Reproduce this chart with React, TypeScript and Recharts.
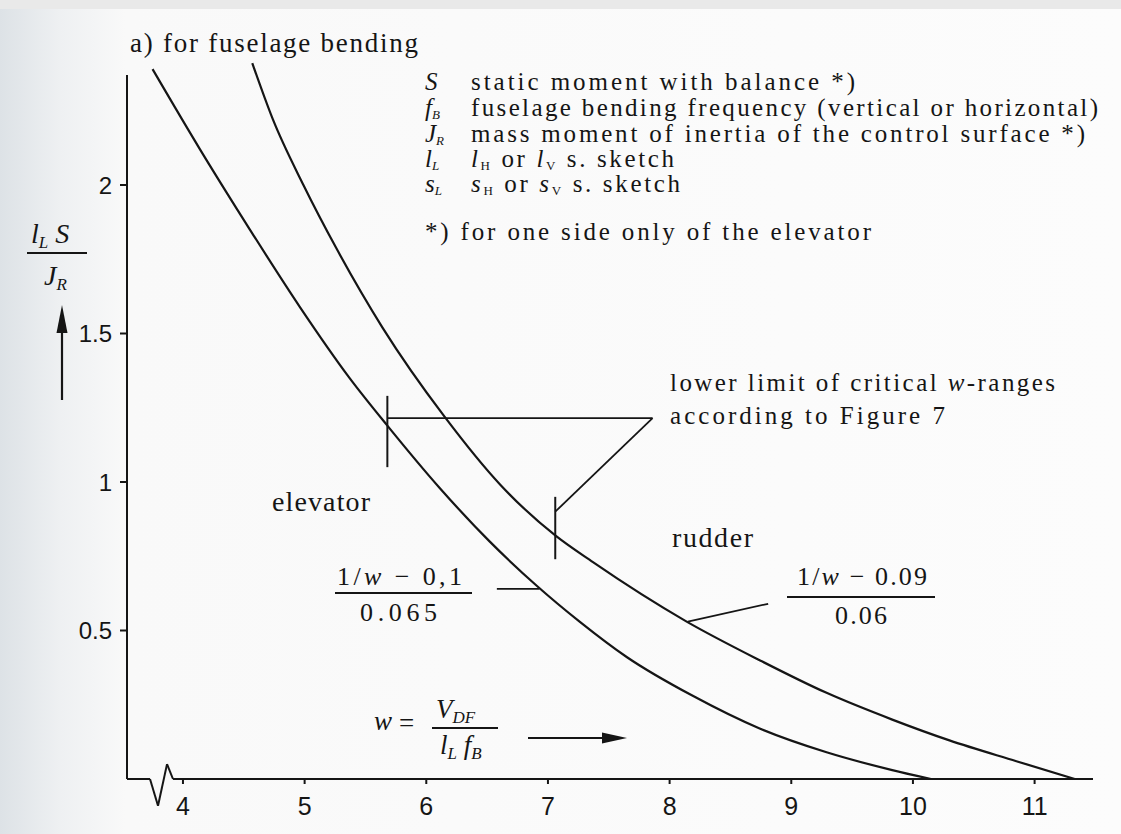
import React from 'react';
import { ComposedChart, Line, XAxis, YAxis, ReferenceLine } from 'recharts';

// Speed parameter w on the horizontal axis
const W_TICKS = [4, 5, 6, 7, 8, 9, 10, 11];
// Ratio l_L·S / J_R on the vertical axis
const Y_TICKS = [0.5, 1, 1.5, 2];

// Elevator curve  (1/w − 0,1) / 0.065
const elevatorW = [3.75, 4.14, 4.55, 4.96, 5.37, 5.68, 6.11, 6.52, 6.91, 7.26, 7.65, 8.19, 8.74, 9.29, 9.83, 10.15];
const elevatorV = [2.39, 2.12, 1.85, 1.59, 1.35, 1.19, 0.98, 0.8, 0.65, 0.53, 0.41, 0.28, 0.17, 0.09, 0.03, 0];

// Rudder curve  (1/w − 0.09) / 0.06
const rudderW = [4.57, 4.74, 4.99, 5.27, 5.64, 6.15, 6.61, 7.06, 7.37, 8.14, 8.74, 9.29, 9.83, 10.3, 10.85, 11.33];
const rudderV = [2.41, 2.22, 2.0, 1.78, 1.52, 1.22, 0.99, 0.82, 0.73, 0.53, 0.4, 0.29, 0.2, 0.13, 0.06, 0];

// Lower limits of the critical w-ranges (Figure 7)
const elevatorLimitW = 5.68;
const rudderLimitW = 7.06;

const elevatorData = elevatorW.map((w, i) => ({ w, v: elevatorV[i] }));
const rudderData = rudderW.map((w, i) => ({ w, v: rudderV[i] }));

const W_MIN = 3.54;
const W_MAX = 11.48;
const V_MAX = 2.45;
const V_AXIS_TOP = 2.37;

const INK = '#151515';
const SERIF = "'Liberation Serif', 'Times New Roman', serif";
const SANS = "'Liberation Sans Narrow', 'Liberation Sans', Arial, sans-serif";

const seg = (x1: number, y1: number, x2: number, y2: number, key: string, w = 2) => (
  <ReferenceLine
    key={key}
    segment={[{ x: x1, y: y1 }, { x: x2, y: y2 }]}
    stroke={INK}
    strokeWidth={w}
    ifOverflow="visible"
  />
);

const Sub = ({ children, size = 15, dy = 4 }: { children: React.ReactNode; size?: number; dy?: number }) => (
  <tspan fontSize={size} dy={dy}>{children}</tspan>
);

export default function App() {
  const width = 1121;
  const height = 834;
  const yAxisWidth = 60;
  const xAxisHeight = 40;
  const plotBottom = 779;
  const plotTop = plotBottom - V_MAX * 297;
  const margin = { top: plotTop, right: 28, bottom: height - plotBottom - xAxisHeight, left: 127 - yAxisWidth };

  return (
    <div
      style={{
        position: 'relative',
        width,
        height,
        overflow: 'hidden',
        background: 'linear-gradient(to right, #dde2e6 0px, #eef0f2 60px, #f9f9f9 125px, #fcfcfc 100%)',
      }}
    >
      <style>{'body{margin:0}'}</style>
      <div style={{ position: 'absolute', left: 0, top: 0, width, height: 9, background: '#e9e9e9' }} />
      <div style={{ position: 'absolute', left: 0, top: 0 }}>
        <ComposedChart width={width} height={height} margin={margin}>
          <XAxis
            type="number"
            dataKey="w"
            domain={[W_MIN, W_MAX]}
            allowDataOverflow
            ticks={W_TICKS}
            axisLine={false}
            tickLine={{ stroke: INK, strokeWidth: 2 }}
            tickSize={5}
            tickMargin={13}
            height={xAxisHeight}
            tick={{ fill: INK, fontSize: 25, fontFamily: SANS }}
          />
          <YAxis
            type="number"
            dataKey="v"
            domain={[0, V_MAX]}
            allowDataOverflow
            ticks={Y_TICKS}
            tickFormatter={(v: number) => String(v)}
            axisLine={false}
            tickLine={{ stroke: INK, strokeWidth: 2 }}
            tickSize={7}
            tickMargin={8}
            width={yAxisWidth}
            tick={{ fill: INK, fontSize: 24, fontFamily: SANS }}
          />

          {/* axes, with the break mark on the w-axis */}
          {seg(W_MIN, 0, W_MIN, V_AXIS_TOP, 'yaxis')}
          {seg(W_MIN, 0, 3.729, 0, 'x0')}
          {seg(3.729, 0, 3.795, -0.09, 'x1')}
          {seg(3.795, -0.09, 3.869, 0.05, 'x2')}
          {seg(3.869, 0.05, 3.918, 0, 'x3')}
          {seg(3.918, 0, W_MAX, 0, 'x4')}

          <Line data={elevatorData} dataKey="v" type="monotone" stroke={INK} strokeWidth={2.2} dot={false} isAnimationActive={false} />
          <Line data={rudderData} dataKey="v" type="monotone" stroke={INK} strokeWidth={2.2} dot={false} isAnimationActive={false} />

          {/* lower-limit marks and their pointer lines */}
          {seg(elevatorLimitW, 1.05, elevatorLimitW, 1.29, 'elim')}
          {seg(elevatorLimitW, 1.215, 7.86, 1.215, 'ehor', 1.8)}
          {seg(rudderLimitW, 0.74, rudderLimitW, 0.95, 'rlim')}
          {seg(rudderLimitW, 0.9, 7.86, 1.215, 'rdiag', 1.8)}

          {/* leaders to the curve formulas */}
          {seg(6.58, 0.64, 6.93, 0.64, 'elead', 1.8)}
          {seg(8.15, 0.53, 8.81, 0.59, 'rlead', 1.8)}
        </ComposedChart>
      </div>

      <svg
        width={width}
        height={height}
        style={{ position: 'absolute', left: 0, top: 0, pointerEvents: 'none' }}
        fontFamily={SERIF}
        fill={INK}
      >
        <text x={130} y={52} fontSize={27} textLength={288} lengthAdjust="spacing">a) for fuselage bending</text>

        {/* symbol list */}
        <g fontSize={25}>
          <text x={425} y={90} fontStyle="italic">S</text>
          <text x={471} y={90} textLength={384} lengthAdjust="spacing">static moment with balance *)</text>

          <text x={425} y={116} fontStyle="italic">f<Sub size={13} dy={3}>B</Sub></text>
          <text x={471} y={116} textLength={627} lengthAdjust="spacing">fuselage bending frequency (vertical or horizontal)</text>

          <text x={425} y={142} fontStyle="italic">J<Sub size={13} dy={3}>R</Sub></text>
          <text x={471} y={142} textLength={614} lengthAdjust="spacing">mass moment of inertia of the control surface *)</text>

          <text x={425} y={167} fontStyle="italic">l<Sub size={13} dy={3}>L</Sub></text>
          <text x={471} y={167} textLength={203} lengthAdjust="spacing">
            <tspan fontStyle="italic">l</tspan><Sub size={13} dy={3}>H</Sub>
            <tspan dy={-3}> or </tspan>
            <tspan fontStyle="italic">l</tspan><Sub size={13} dy={3}>V</Sub>
            <tspan dy={-3}> s. sketch</tspan>
          </text>

          <text x={425} y={192} fontStyle="italic">s<Sub size={13} dy={3}>L</Sub></text>
          <text x={471} y={192} textLength={209} lengthAdjust="spacing">
            <tspan fontStyle="italic">s</tspan><Sub size={13} dy={3}>H</Sub>
            <tspan dy={-3}> or </tspan>
            <tspan fontStyle="italic">s</tspan><Sub size={13} dy={3}>V</Sub>
            <tspan dy={-3}> s. sketch</tspan>
          </text>

          <text x={425} y={240} textLength={446} lengthAdjust="spacing">*) for one side only of the elevator</text>
        </g>

        {/* vertical axis title */}
        <g fontSize={28} fontStyle="italic">
          <text x={31} y={243}>l<Sub size={17} dy={5}>L</Sub><tspan dy={-5}> S</tspan></text>
          <line x1={27} y1={253} x2={87} y2={253} stroke={INK} strokeWidth={1.8} />
          <text x={44} y={285}>J<Sub size={17} dy={5}>R</Sub></text>
        </g>
        <line x1={62} y1={400} x2={62} y2={328} stroke={INK} strokeWidth={2.2} />
        <polygon points="62,305 56.5,333 67.5,333" fill={INK} />

        {/* curve names */}
        <text x={272} y={511} fontSize={28} textLength={98} lengthAdjust="spacing">elevator</text>
        <text x={672} y={547} fontSize={28} textLength={81} lengthAdjust="spacing">rudder</text>

        {/* critical-range note */}
        <g fontSize={25}>
          <text x={670} y={391} textLength={385} lengthAdjust="spacing">
            lower limit of critical <tspan fontStyle="italic">w</tspan>-ranges
          </text>
          <text x={670} y={424} textLength={275} lengthAdjust="spacing">according to Figure 7</text>
        </g>

        {/* elevator formula */}
        <g fontSize={26}>
          <text x={337} y={585} textLength={125} lengthAdjust="spacing">1/<tspan fontStyle="italic">w</tspan> − 0,1</text>
          <line x1={335} y1={593} x2={472} y2={593} stroke={INK} strokeWidth={1.8} />
          <text x={360} y={621} textLength={77} lengthAdjust="spacing">0.065</text>
        </g>

        {/* rudder formula */}
        <g fontSize={26}>
          <text x={797} y={585} textLength={130} lengthAdjust="spacing">1/<tspan fontStyle="italic">w</tspan> − 0.09</text>
          <line x1={787} y1={597} x2={935} y2={597} stroke={INK} strokeWidth={1.8} />
          <text x={835} y={624} textLength={52} lengthAdjust="spacing">0.06</text>
        </g>

        {/* definition of w */}
        <g fontSize={27}>
          <text x={374} y={730} fontStyle="italic">w</text>
          <text x={399} y={732}>=</text>
          <text x={436} y={718} fontStyle="italic">V<Sub size={17} dy={5}>DF</Sub></text>
          <line x1={432} y1={728} x2={498} y2={728} stroke={INK} strokeWidth={1.8} />
          <text x={440} y={754} fontStyle="italic">
            l<Sub size={17} dy={5}>L</Sub>
            <tspan dy={-5}> f</tspan><Sub size={17} dy={5}>B</Sub>
          </text>
        </g>
        <line x1={528} y1={738} x2={606} y2={738} stroke={INK} strokeWidth={2.2} />
        <polygon points="627,738 602,732.5 602,743.5" fill={INK} />
      </svg>
    </div>
  );
}
